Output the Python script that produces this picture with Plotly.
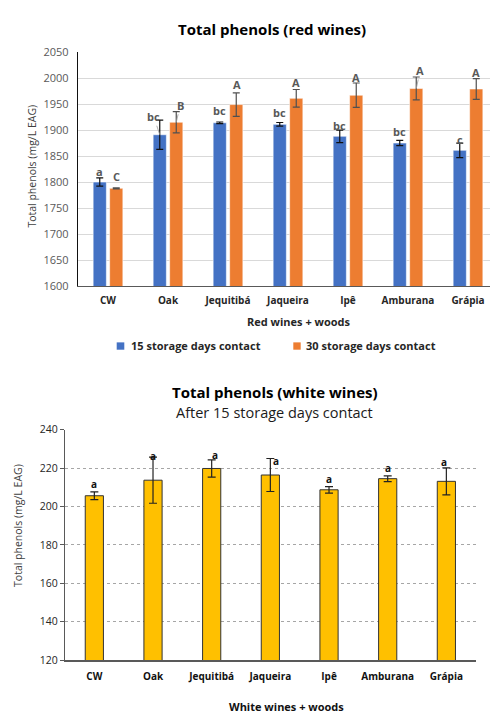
import plotly.graph_objects as go

# ---- data -------------------------------------------------------------
woods = ["CW", "Oak", "Jequitibá", "Jaqueira", "Ipê", "Amburana", "Grápia"]

red_15 = [1800, 1891, 1914, 1911, 1888, 1875, 1861]
red_15_sd = [8, 28, 1.5, 3.5, 12, 5, 14]
red_15_letters = ["a", "bc", "bc", "bc", "bc", "bc", "c"]

red_30 = [1788, 1915, 1949, 1961, 1967, 1980, 1979]
red_30_sd = [1, 20.5, 22.5, 17, 23.5, 22, 20]
red_30_letters = ["C", "B", "A", "A", "A", "A", "A"]

white_15 = [205.6, 213.7, 219.8, 216.4, 208.7, 214.5, 213.1]
white_15_sd = [2, 12, 4.5, 8.6, 1.7, 1.5, 7]
white_15_letters = ["a", "a", "a", "a", "a", "a", "a"]

# ---- styling helpers ----------------------------------------------------
W, H = 490, 718
FONT = "Open Sans"
BLUE, ORANGE, GOLD = "#4472C4", "#ED7D31", "#FFC000"

BARGAP, BARGROUPGAP = 0.45, 0.2
slot = (1 - BARGAP) / 2
bar_off = slot / 2  # centre offset of each bar inside its group


def px(x):
    return x / W


def py(y):
    return 1 - y / H


fig = go.Figure()

# ---- red wines ---------------------------------------------------------
fig.add_trace(go.Bar(
    x=woods, y=red_15, name="15 storage days contact",
    marker=dict(color=BLUE, line=dict(color="rgba(255,255,255,0.55)", width=1)),
    error_y=dict(type="data", array=red_15_sd, color="#111111", thickness=1.2, width=3.5),
    xaxis="x", yaxis="y", showlegend=False,
))
fig.add_trace(go.Bar(
    x=woods, y=red_30, name="30 storage days contact",
    marker=dict(color=ORANGE, line=dict(color="rgba(255,255,255,0.55)", width=1)),
    error_y=dict(type="data", array=red_30_sd, color="#505050", thickness=1.2, width=3.5),
    xaxis="x", yaxis="y", showlegend=False,
))

# ---- white wines -------------------------------------------------------
fig.add_trace(go.Bar(
    x=woods, y=white_15, width=0.31,
    marker=dict(color=GOLD, line=dict(color="#333333", width=1)),
    error_y=dict(type="data", array=white_15_sd, color="#222222", thickness=1.2, width=4),
    xaxis="x2", yaxis="y2", showlegend=False,
))

annotations = []

# significance letters: pixel nudges (dx, dy above the error cap)
red_15_nudge = [(0, 6), None, (0, 11), (0, 10), (0, 5), (0, 9), (0, 4)]
red_30_nudge = [(0, 11), None, (1, 8), (0, 7), (0, 5), None, (0, 6)]
# letters joined to their bar by a leader line: (ax, ay) from bar top
red_15_leader = {1: (-6, -18)}
red_30_leader = {1: (4, -17), 5: (4, -18)}
white_nudge = [(0, 8), (0, 1), (3, 5), (6, -2), (0, 8), (0, 8), (-2, 6)]

letter_font_red = dict(family=FONT, size=11, color="#595959", weight="bold")
letter_font_white = dict(family=FONT, size=10, color="#111111", weight="bold")

for vals, sds, letters, nudges, leaders, sign in [
    (red_15, red_15_sd, red_15_letters, red_15_nudge, red_15_leader, -1),
    (red_30, red_30_sd, red_30_letters, red_30_nudge, red_30_leader, 1),
]:
    for i, (v, sd, t) in enumerate(zip(vals, sds, letters)):
        xc = i + sign * bar_off
        if i in leaders:
            ax, ay = leaders[i]
            annotations.append(dict(
                x=xc, y=v, xref="x", yref="y", text=t, font=letter_font_red,
                showarrow=True, arrowhead=0, arrowwidth=0.8, arrowcolor="#9A9A9A",
                ax=ax, ay=ay, standoff=0,
            ))
        else:
            dx, dy = nudges[i]
            annotations.append(dict(
                x=xc, y=v + sd, xref="x", yref="y", text=t, font=letter_font_red,
                showarrow=False, xshift=dx, yshift=dy, yanchor="middle",
            ))

for i, (v, sd, t) in enumerate(zip(white_15, white_15_sd, white_15_letters)):
    dx, dy = white_nudge[i]
    annotations.append(dict(
        x=i, y=v + sd, xref="x2", yref="y2", text=t, font=letter_font_white,
        showarrow=False, xshift=dx, yshift=dy, yanchor="middle",
    ))

# titles and axis titles
def note(text, x, y, size, bold=False, color="#000000", angle=0, anchor="center"):
    annotations.append(dict(
        text=text, x=px(x), y=py(y), xref="paper", yref="paper", showarrow=False,
        textangle=angle, xanchor=anchor, yanchor="middle",
        font=dict(family=FONT, size=size, color=color, weight="bold" if bold else "normal"),
    ))


note("Total phenols (red wines)", 272, 21, 15, bold=True)
note("Total phenols (mg/L EAG)", 32, 162, 10.5, color="#404040", angle=-90)
note("Red wines + woods", 299, 320, 11, bold=True, color="#262626")
note("15 storage days contact", 129, 345, 11, bold=True, color="#262626", anchor="left")
note("30 storage days contact", 304, 345, 11, bold=True, color="#262626", anchor="left")

note("Total phenols (white wines)", 275, 392, 15, bold=True)
note("After 15 storage days contact", 274, 413, 14.5, color="#1a1a1a")
note("Total phenols (mg/L EAG)", 18, 529, 10.5, color="#404040", angle=-90)
note("White wines + woods", 286, 713, 11, bold=True, color="#111111")

# legend swatches
shapes = [
    dict(type="rect", xref="paper", yref="paper", x0=px(116.7), x1=px(124.3),
         y0=py(349), y1=py(341.5), fillcolor=BLUE, line=dict(width=0)),
    dict(type="rect", xref="paper", yref="paper", x0=px(293.3), x1=px(300.7),
         y0=py(349), y1=py(341.5), fillcolor=ORANGE, line=dict(width=0)),
]

fig.update_layout(
    width=W, height=H,
    margin=dict(l=0, r=0, t=0, b=0),
    paper_bgcolor="white", plot_bgcolor="white",
    barmode="group", bargap=BARGAP, bargroupgap=BARGROUPGAP,
    font=dict(family=FONT),
    annotations=annotations, shapes=shapes,
    xaxis=dict(
        domain=[px(78), 1], range=[-0.5, -0.5 + (W - 78) / 60.0],
        anchor="y", showline=True, linecolor="#595959", linewidth=1.3,
        showgrid=False, ticks="", ticklabelstandoff=5,
        tickfont=dict(family=FONT, size=10, color="#262626", weight="bold"),
    ),
    yaxis=dict(
        domain=[py(284), py(45)], range=[1600, 2050], dtick=50,
        anchor="x", showline=True, linecolor="#111111", linewidth=1.3,
        showgrid=True, gridcolor="#D9D9D9", gridwidth=1, zeroline=False,
        ticks="", ticklabelstandoff=6,
        tickfont=dict(family=FONT, size=11, color="#595959"),
    ),
    xaxis2=dict(
        domain=[px(65), px(475.7)], range=[-0.5, 6.5],
        anchor="y2", showline=True, linecolor="#595959", linewidth=1.5,
        showgrid=False, ticks="", ticklabelstandoff=6,
        tickfont=dict(family=FONT, size=10, color="#111111", weight="bold"),
    ),
    yaxis2=dict(
        domain=[py(666), py(430.7)], range=[120, 240], dtick=20,
        anchor="x2", showline=True, linecolor="#595959", linewidth=1.3,
        showgrid=True, gridcolor="#A6A6A6", griddash="dot", gridwidth=1,
        zeroline=False, ticks="outside", ticklen=4, tickcolor="#595959",
        tickfont=dict(family=FONT, size=10.5, color="#262626"),
    ),
)

fig.write_html("out.html")
